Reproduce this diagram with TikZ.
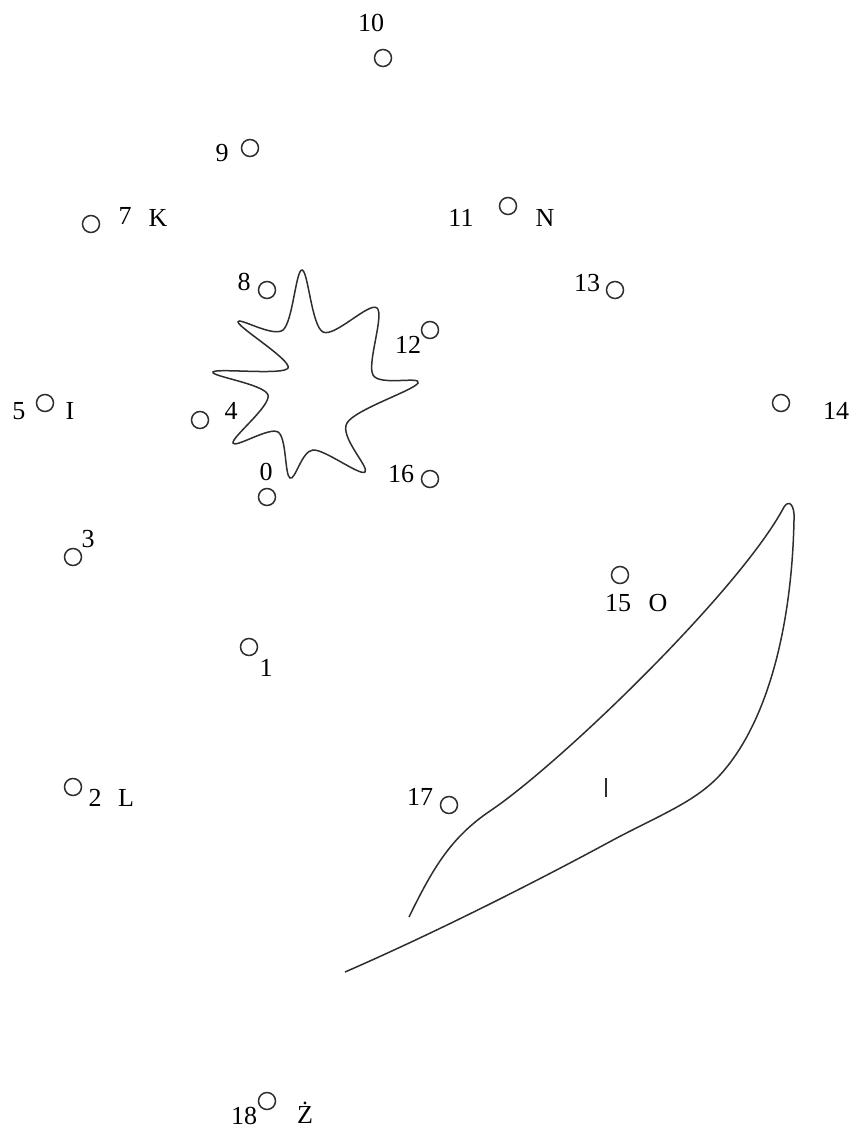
\documentclass[tikz,border=0pt]{standalone}
\usepackage{fontspec}
\setmainfont{Liberation Serif}
\usepackage{tikz}
\usetikzlibrary{positioning}
\definecolor{inkgray}{HTML}{2E2E2E}

\tikzset{
  spot/.style={circle,draw=inkgray,line width=1.5pt,minimum size=17pt,inner sep=0pt},
  tag/.style={inner sep=0pt,font=\fontsize{26}{28}\selectfont},
  outline/.style={draw=inkgray,line width=1.5pt}
}

\begin{document}
\begin{tikzpicture}[x=1pt,y=-1pt]
\useasboundingbox (0,0) rectangle (855,1131);
% the numbered spots
\foreach \n/\x/\y in {0/267/497,1/249/647,2/73/787,3/73/557,4/200/420,5/45/403,
  7/91/224,8/267/290,9/250/148,10/383/58,11/508/206,12/430/330,13/615/290,
  14/781/403,15/620/575,16/430/479,17/449/805,18/267/1101}
  \node[spot] (p\n) at (\x,\y) {};
% their numbers
\foreach \n/\x/\y in {0/266/472,1/266/668,2/95/798,3/88/539,4/231/411,5/19/411,
  7/125/216,8/244/282,9/222/153,10/371/23,11/461/218,12/408/345,13/587/283,
  14/836/411,15/618/603,16/401/474,17/420/797,18/244/1116}
  \node[tag] (n\n) at (\x,\y) {\n};
% letters
\node[tag] (lK) at (158,218) {K};
\node[tag] (lN) at (545,218) {N};
\node[tag] (lI) at (70,411) {I};
\node[tag] (lO) at (658,603) {O};
\node[tag] (lL) at (126,798) {L};
\node[tag] (lZ) at (305,1113) {Ż};
% star
\draw[outline] plot[smooth cycle,tension=0.55] coordinates{
  (302,270) (323,332) (377,308) (373,375) (418,383) (347,423) (365,472) (313,450)
  (290,478) (278,432) (233,443) (268,395) (213,372) (288,368) (238,322) (283,330)};
% crescent
\draw[outline] (409,917) .. controls (432,870) and (450,838) .. (490,811)
  .. controls (560,764) and (740,590) .. (784,507)
  .. controls (789,499) and (795,505) .. (794,520)
  .. controls (792,620) and (770,720) .. (720,775)
  .. controls (695,802) and (660,815) .. (613,840)
  .. controls (530,885) and (430,935) .. (345,972);
\draw[outline] (606,778) -- (606,797);
\end{tikzpicture}
\end{document}
